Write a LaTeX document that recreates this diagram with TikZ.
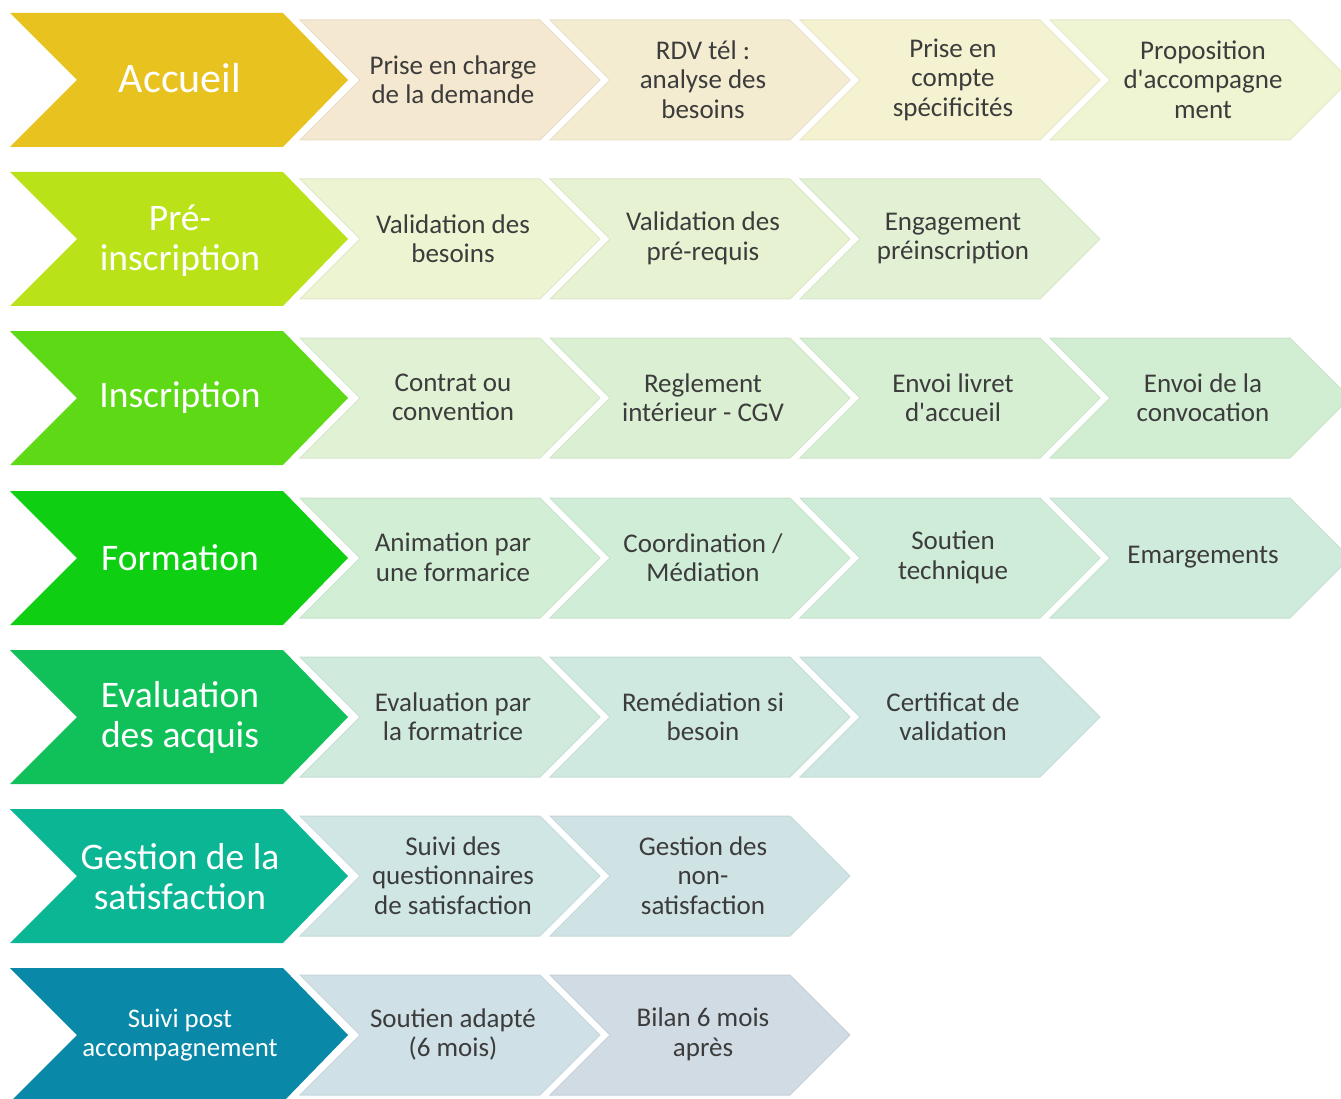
\documentclass[tikz,border=0pt]{standalone}
\usepackage{fontspec}
\setmainfont{Carlito}[Ligatures=TeXOff]
\definecolor{txt}{HTML}{3C3C3C}
% row colours
\definecolor{b1}{HTML}{E8C21E}
\definecolor{b2}{HTML}{B9E318}
\definecolor{b3}{HTML}{5ED916}
\definecolor{b4}{HTML}{0ECF12}
\definecolor{b5}{HTML}{10C15A}
\definecolor{b6}{HTML}{0AB694}
\definecolor{b7}{HTML}{0A88A8}
\definecolor{s11}{HTML}{F5E8D0}
\definecolor{s12}{HTML}{F4ECD0}
\definecolor{s13}{HTML}{F4F2D0}
\definecolor{s14}{HTML}{EFF4D2}
\definecolor{s21}{HTML}{ECF4D2}
\definecolor{s22}{HTML}{E7F2D2}
\definecolor{s23}{HTML}{E2F1D3}
\definecolor{s31}{HTML}{E0F1D4}
\definecolor{s32}{HTML}{DBF0D3}
\definecolor{s33}{HTML}{D6EFD2}
\definecolor{s34}{HTML}{D2EED2}
\definecolor{s41}{HTML}{D2EED5}
\definecolor{s42}{HTML}{D0EDD7}
\definecolor{s43}{HTML}{CFECD9}
\definecolor{s44}{HTML}{CEEBDB}
\definecolor{s51}{HTML}{D0EADE}
\definecolor{s52}{HTML}{CFE8E0}
\definecolor{s53}{HTML}{CEE7E2}
\definecolor{s61}{HTML}{CFE6E5}
\definecolor{s62}{HTML}{CFE2E4}
\definecolor{s71}{HTML}{CFE1E6}
\definecolor{s72}{HTML}{D0DBE3}
\tikzset{
  bigtext/.style={text=white, align=center, inner sep=0pt,
    font=\fontsize{37.5}{40}\selectfont},
  smalltext/.style={text=txt, align=center, inner sep=0pt,
    font=\fontsize{27}{29.5}\selectfont},
  smallfill/.style={fill=#1, draw=#1!95!black, line width=1pt}
}
\newcommand\BigChev[5]{% top y, colour, name, text, vertical offset
  \fill[#2] (10,#1) -- (283,#1) -- (348,#1+67) -- (283,#1+134) -- (10,#1+134) -- (77,#1+67) -- cycle;
  \node[bigtext] (#3) at (180,#1+#5) {#4};
}
\newcommand\SmallChev[5]{% left x, top y, colour, name, text
  \filldraw[smallfill=#3] (#1,#2) -- (#1+240,#2) -- (#1+300,#2+60) -- (#1+240,#2+120) -- (#1,#2+120) -- (#1+60,#2+60) -- cycle;
  \node[smalltext] (#4) at (#1+153,#2+59.5) {#5};
}
\begin{document}
\begin{tikzpicture}[x=1pt,y=-1pt]
\useasboundingbox (0,0) rectangle (1341,1099);
\clip (0,0) rectangle (1341,1099);
% Row 1
\BigChev{13}{b1}{accueil}{\fontsize{42}{44}\selectfont Accueil}{65}
\SmallChev{300}{20}{s11}{r1a}{Prise en charge\\de la demande}
\SmallChev{550}{20}{s12}{r1b}{RDV tél :\\analyse des\\besoins}
\SmallChev{800}{20}{s13}{r1c}{Prise en\\compte\\spécificités}
\SmallChev{1050}{20}{s14}{r1d}{Proposition\\d'accompagne\\ment}
% Row 2
\BigChev{172}{b2}{preinsc}{Pré-\\inscription}{68.5}
\SmallChev{300}{179}{s21}{r2a}{Validation des\\besoins}
\SmallChev{550}{179}{s22}{r2b}{Validation des\\pré-requis}
\SmallChev{800}{179}{s23}{r2c}{Engagement\\préinscription}
% Row 3
\BigChev{331}{b3}{insc}{Inscription}{67}
\SmallChev{300}{338}{s31}{r3a}{Contrat ou\\convention}
\SmallChev{550}{338}{s32}{r3b}{Reglement\\intérieur - CGV}
\SmallChev{800}{338}{s33}{r3c}{Envoi livret\\d'accueil}
\SmallChev{1050}{338}{s34}{r3d}{Envoi de la\\convocation}
% Row 4
\BigChev{491}{b4}{form}{Formation}{67}
\SmallChev{300}{498}{s41}{r4a}{Animation par\\une formarice}
\SmallChev{550}{498}{s42}{r4b}{Coordination /\\Médiation}
\SmallChev{800}{498}{s43}{r4c}{Soutien\\technique}
\SmallChev{1050}{498}{s44}{r4d}{Emargements}
% Row 5
\BigChev{650}{b5}{eval}{Evaluation\\des acquis}{67.5}
\SmallChev{300}{657}{s51}{r5a}{Evaluation par\\la formatrice}
\SmallChev{550}{657}{s52}{r5b}{Remédiation si\\besoin}
\SmallChev{800}{657}{s53}{r5c}{Certificat de\\validation}
% Row 6
\BigChev{809}{b6}{satis}{Gestion de la\\satisfaction}{67.5}
\SmallChev{300}{816}{s61}{r6a}{Suivi des\\questionnaires\\de satisfaction}
\SmallChev{550}{816}{s62}{r6b}{Gestion des\\non-\\satisfaction}
% Row 7
\BigChev{968}{b7}{suivi}{}{67}
\node[text=white, align=center, inner sep=0pt, font=\fontsize{26.8}{29}\selectfont] (suivitxt) at (180,1035) {Suivi post\\accompagnement};
\SmallChev{300}{975}{s71}{r7a}{Soutien adapté\\(6 mois)}
\SmallChev{550}{975}{s72}{r7b}{Bilan 6 mois\\après}
\end{tikzpicture}
\end{document}
